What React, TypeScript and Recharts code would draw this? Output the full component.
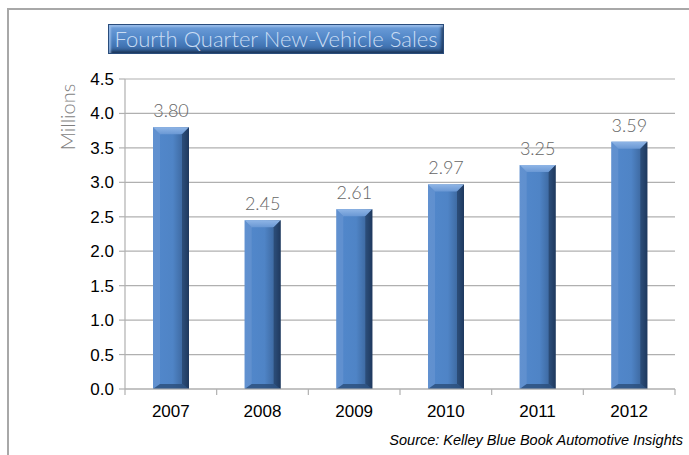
import { BarChart, Bar, XAxis, YAxis, CartesianGrid, LabelList } from "recharts";

const years = ["2007", "2008", "2009", "2010", "2011", "2012"];
const sales = [3.8, 2.45, 2.61, 2.97, 3.25, 3.59];
const yTicks = [0, 0.5, 1, 1.5, 2, 2.5, 3, 3.5, 4, 4.5];

const chartData = years.map((year, i) => ({ year, sales: sales[i] }));

const GRID = "#b0b0b0";
const THIN = "Lato, 'Open Sans', sans-serif";
const SANS = "'Liberation Sans', Arial, sans-serif";
const TICK_SIZE = 6;
const TICK_MARGIN = 10;

// bevelled bar like the Excel "3-D" style
function BevelBar(props: any) {
  const { x, y, width, height } = props;
  if (!height || height <= 0) return null;
  const b = 7;
  const bb = 5;
  return (
    <g>
      <rect x={x} y={y} width={width} height={height} fill="url(#barBody)" />
      <polygon
        points={`${x},${y} ${x + width},${y} ${x + width - b},${y + b} ${x + b},${y + b}`}
        fill="url(#barTop)"
      />
      <polygon
        points={`${x},${y} ${x + b},${y + b} ${x + b},${y + height - bb} ${x},${y + height}`}
        fill="#6f9ad3"
        opacity={0.5}
      />
      <polygon
        points={`${x + width},${y} ${x + width - b},${y + b} ${x + width - b},${y + height - bb} ${x + width},${y + height}`}
        fill="#1c3354"
        opacity={0.55}
      />
      <polygon
        points={`${x},${y + height} ${x + b},${y + height - bb} ${x + width - b},${y + height - bb} ${x + width},${y + height}`}
        fill="#2b4d7a"
        opacity={0.8}
      />
    </g>
  );
}

// category label plus tick marks on the category boundaries (Excel style)
function YearTick(props: any) {
  const { x, y, payload, index, visibleTicksCount, width } = props;
  const bw = width / visibleTicksCount;
  const axisY = y - TICK_SIZE - TICK_MARGIN;
  const last = index === visibleTicksCount - 1;
  return (
    <g>
      <line x1={x - bw / 2} x2={x - bw / 2} y1={axisY} y2={axisY + TICK_SIZE} stroke={GRID} strokeWidth={1.2} />
      {last && (
        <line x1={x + bw / 2} x2={x + bw / 2} y1={axisY} y2={axisY + TICK_SIZE} stroke={GRID} strokeWidth={1.2} />
      )}
      <text x={x} y={y} dy="0.71em" textAnchor="middle" fill="#000" fontSize={17} fontFamily={SANS}>
        {payload.value}
      </text>
    </g>
  );
}

export default function App() {
  return (
    <div style={{ position: "absolute", left: 0, top: 0, width: 689, height: 455, background: "#fff" }}>
      <svg width={0} height={0} style={{ position: "absolute" }}>
        <defs>
          <linearGradient id="barBody" x1="0" y1="0" x2="1" y2="0">
            <stop offset="0%" stopColor="#5288cc" />
            <stop offset="55%" stopColor="#4f84c6" />
            <stop offset="85%" stopColor="#3c679e" />
            <stop offset="100%" stopColor="#23406a" />
          </linearGradient>
          <linearGradient id="barTop" x1="0" y1="0" x2="0" y2="1">
            <stop offset="0%" stopColor="#8fb5e6" />
            <stop offset="100%" stopColor="#6a98d4" />
          </linearGradient>
        </defs>
      </svg>

      {/* frame */}
      <div
        style={{
          position: "absolute",
          left: 7,
          top: 8,
          width: 689 - 7,
          height: 455 - 8,
          borderTop: "2px solid #a8a8a8",
          borderLeft: "2px solid #a8a8a8",
          boxSizing: "border-box",
        }}
      />

      {/* title */}
      <div
        style={{
          position: "absolute",
          left: 108,
          top: 24,
          width: 336,
          height: 30,
          boxSizing: "border-box",
          background: "linear-gradient(to bottom, #6f9fda 0%, #5388c8 45%, #4275b4 75%, #2f5689 100%)",
          border: "1px solid #2a4d7c",
          boxShadow: "inset 2px 2px 2px rgba(170,200,240,0.7), inset -2px -2px 3px rgba(20,40,70,0.7)",
          color: "#c9dcf3",
          fontFamily: THIN,
          fontWeight: 300,
          fontSize: 22,
          lineHeight: "28px",
          textAlign: "center",
          whiteSpace: "nowrap",
          overflow: "hidden",
        }}
      >
        Fourth Quarter New-Vehicle Sales
      </div>

      {/* axis title */}
      <div
        style={{
          position: "absolute",
          left: 67,
          top: 117,
          transform: "translate(-50%, -50%) rotate(-90deg)",
          color: "#7f7f7f",
          fontFamily: THIN,
          fontWeight: 300,
          fontSize: 20,
          whiteSpace: "nowrap",
        }}
      >
        Millions
      </div>

      <BarChart
        width={689}
        height={455}
        data={chartData}
        margin={{ top: 79, right: 14, bottom: 36, left: 65 }}
      >
        <CartesianGrid vertical={false} stroke={GRID} strokeWidth={1.2} />
        <XAxis
          dataKey="year"
          height={30}
          stroke={GRID}
          strokeWidth={1.2}
          tickLine={false}
          tickSize={TICK_SIZE}
          tickMargin={TICK_MARGIN}
          interval={0}
          tick={YearTick}
        />
        <YAxis
          width={60}
          domain={[0, 4.5]}
          ticks={yTicks}
          tickFormatter={(v: number) => v.toFixed(1)}
          stroke={GRID}
          strokeWidth={1.2}
          tickSize={6}
          tickMargin={5}
          tick={{ fill: "#000", fontSize: 17, fontFamily: SANS }}
        />
        <Bar dataKey="sales" barSize={36} shape={BevelBar} isAnimationActive={false}>
          <LabelList
            dataKey="sales"
            position="top"
            offset={10}
            formatter={(v: any) => Number(v).toFixed(2)}
            style={{ fill: "#666", fontSize: 18, fontFamily: THIN, fontWeight: 300 }}
          />
        </Bar>
      </BarChart>

      {/* source */}
      <div
        style={{
          position: "absolute",
          right: 6,
          top: 432,
          fontFamily: SANS,
          fontStyle: "italic",
          fontSize: 14.5,
          color: "#000",
          whiteSpace: "nowrap",
        }}
      >
        Source: Kelley Blue Book Automotive Insights
      </div>
    </div>
  );
}
